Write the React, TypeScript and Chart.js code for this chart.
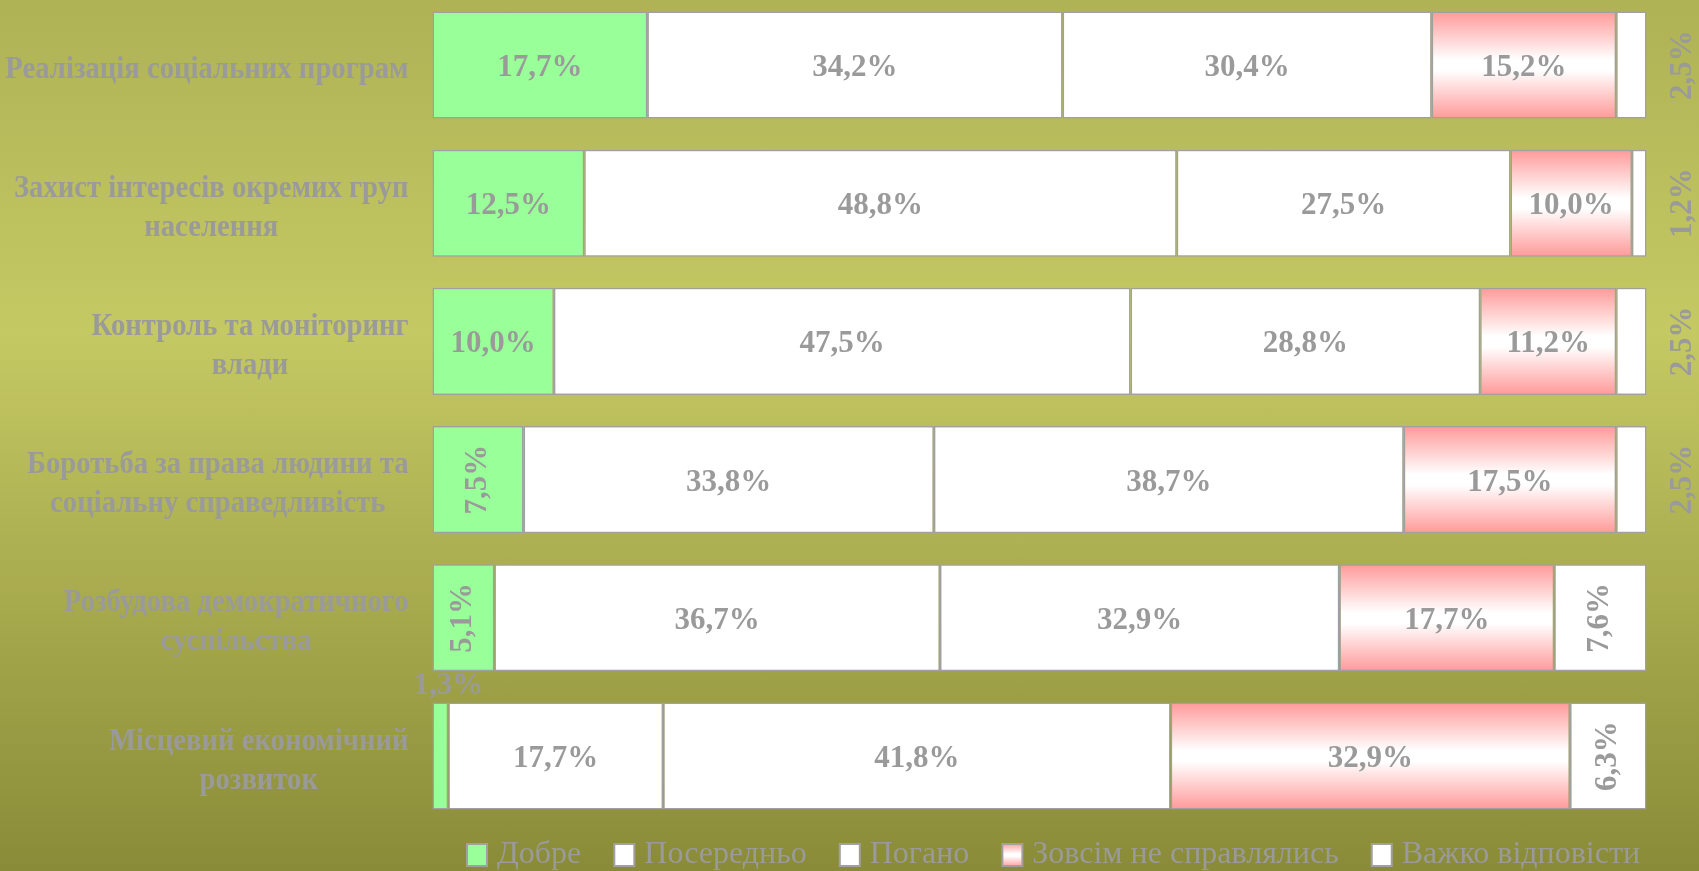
import React, { useEffect, useRef } from 'react';
import { Chart, registerables } from 'chart.js';

Chart.register(...registerables);

// ---- Data ----
const CATEGORIES: string[][] = [
  ['Реалізація соціальних програм'],
  ['Захист інтересів окремих груп', 'населення'],
  ['Контроль та моніторинг', 'влади'],
  ['Боротьба за права людини та', 'соціальну справедливість'],
  ['Розбудова демократичного', 'суспільства'],
  ['Місцевий економічний', 'розвиток'],
];

const SERIES_NAMES = ['Добре', 'Посередньо', 'Погано', 'Зовсім не справлялись', 'Важко відповісти'];

const GOOD = [17.7, 12.5, 10.0, 7.5, 5.1, 1.3];
const AVERAGE = [34.2, 48.8, 47.5, 33.8, 36.7, 17.7];
const BAD = [30.4, 27.5, 28.8, 38.7, 32.9, 41.8];
const VERY_BAD = [15.2, 10.0, 11.2, 17.5, 17.7, 32.9];
const HARD_TO_SAY = [2.5, 1.2, 2.5, 2.5, 7.6, 6.3];

const SERIES_VALUES = [GOOD, AVERAGE, BAD, VERY_BAD, HARD_TO_SAY];

// ---- Styles ----
const FAMILY = "'Liberation Serif', 'Times New Roman', serif";
const TEXT_GRAY = '#9A9A9A';
const BORDER_GRAY = '#A0A0A0';
const GREEN = '#99FF99';
const WHITE = '#FFFFFF';
const PINK = '#FF9999';
const BAR_PCT = 0.775;

const W = 1699;
const H = 881;

function fmt(v: number): string {
  return v.toFixed(1).replace('.', ',') + '%';
}

function pinkGradient(ctx: CanvasRenderingContext2D, top: number, bottom: number) {
  const g = ctx.createLinearGradient(0, top, 0, bottom);
  g.addColorStop(0, PINK);
  g.addColorStop(0.45, WHITE);
  g.addColorStop(0.55, WHITE);
  g.addColorStop(1, PINK);
  return g;
}

// Legend icon: 60px wide image, the visible 22x24 box sits at its right side
function makeIcon(kind: 'green' | 'white' | 'pink'): HTMLCanvasElement {
  const c = document.createElement('canvas');
  c.width = 60;
  c.height = 24;
  const x = c.getContext('2d')!;
  const bx = 36;
  if (kind === 'pink') x.fillStyle = pinkGradient(x, 0, 24);
  else x.fillStyle = kind === 'green' ? GREEN : WHITE;
  x.fillRect(bx, 0, 22, 24);
  x.strokeStyle = BORDER_GRAY;
  x.lineWidth = 2;
  x.strokeRect(bx + 1, 1, 20, 22);
  return c;
}

const yLabelsPlugin = {
  id: 'yLabels',
  afterDraw(chart: any) {
    const ctx = chart.ctx as CanvasRenderingContext2D;
    const ys = chart.scales.y;
    const left = chart.chartArea.left;
    const sx = 0.925;
    ctx.save();
    ctx.font = `bold 31px ${FAMILY}`;
    ctx.fillStyle = TEXT_GRAY;
    ctx.textAlign = 'center';
    ctx.textBaseline = 'middle';
    const lh = 39;
    CATEGORIES.forEach((lines, i) => {
      const yc = ys.getPixelForValue(i) + 5;
      const w = Math.max(...lines.map((l) => ctx.measureText(l).width)) * sx;
      const cx = left - 24 - w / 2;
      const y0 = yc - ((lines.length - 1) * lh) / 2;
      lines.forEach((l, k) => {
        ctx.save();
        ctx.translate(cx, y0 + k * lh);
        ctx.scale(sx, 1);
        ctx.fillText(l, 0, 0);
        ctx.restore();
      });
    });
    ctx.restore();
  },
};

const dataLabelsPlugin = {
  id: 'dataLabels',
  afterDatasetsDraw(chart: any) {
    const ctx = chart.ctx as CanvasRenderingContext2D;
    const area = chart.chartArea;
    const n = chart.data.datasets.length;
    ctx.save();
    ctx.font = `bold 31px ${FAMILY}`;
    ctx.fillStyle = TEXT_GRAY;
    ctx.textAlign = 'center';
    ctx.textBaseline = 'middle';
    const rot = (t: string, x: number, y: number) => {
      ctx.save();
      ctx.translate(x, y);
      ctx.rotate(-Math.PI / 2);
      ctx.fillText(t, 0, 0);
      ctx.restore();
    };
    chart.data.datasets.forEach((ds: any, d: number) => {
      const meta = chart.getDatasetMeta(d);
      meta.data.forEach((el: any, i: number) => {
        const v = ds.data[i] as number;
        const t = fmt(v);
        const x0 = Math.min(el.base, el.x);
        const x1 = Math.max(el.base, el.x);
        const w = x1 - x0;
        const cx = (x0 + x1) / 2;
        const cy = el.y;
        if (w >= 100) ctx.fillText(t, cx, cy + 3);
        else if (w >= 45) rot(t, cx, cy);
        else if (d === n - 1) rot(t, area.right + 36, cy);
        else ctx.fillText(t, cx + 8, cy - el.height / 2 - 16);
      });
    });
    ctx.restore();
  },
};

export default function App() {
  const ref = useRef<HTMLCanvasElement | null>(null);

  useEffect(() => {
    if (!ref.current) return;
    const icons = [makeIcon('green'), makeIcon('white'), makeIcon('white'), makeIcon('pink'), makeIcon('white')];
    const fills: any[] = [GREEN, WHITE, WHITE, 'pink', WHITE];

    const datasets = SERIES_NAMES.map((name, s) => ({
      label: name,
      data: SERIES_VALUES[s],
      backgroundColor:
        fills[s] === 'pink'
          ? (c: any) => {
              const chart = c.chart;
              const ys = chart.scales && chart.scales.y;
              if (!ys || !chart.chartArea || c.dataIndex === undefined) return PINK;
              const yc = ys.getPixelForValue(c.dataIndex);
              const pitch = Math.abs(ys.getPixelForValue(1) - ys.getPixelForValue(0));
              if (!Number.isFinite(yc) || !Number.isFinite(pitch) || pitch === 0) return PINK;
              const half = (pitch * BAR_PCT) / 2;
              return pinkGradient(chart.ctx, yc - half, yc + half);
            }
          : fills[s],
      borderColor: BORDER_GRAY,
      borderWidth: 1.5,
      borderSkipped: false,
      barPercentage: BAR_PCT,
      categoryPercentage: 1,
      clip: false,
    }));

    const chart = new Chart(ref.current, {
      type: 'bar',
      data: {
        labels: CATEGORIES.map((l) => l.join(' ')),
        datasets: datasets as any,
      },
      plugins: [yLabelsPlugin, dataLabelsPlugin],
      options: {
        indexAxis: 'y',
        responsive: false,
        animation: false,
        devicePixelRatio: 1,
        events: [],
        layout: { padding: { top: 65, left: 432.5, right: 52.5, bottom: 0 } },
        scales: {
          x: {
            stacked: true,
            min: 0,
            max: 100,
            display: true,
            grid: { display: false },
            border: { display: false },
            ticks: { display: false },
            afterFit: (s: any) => {
              s.height = 78;
            },
          },
          y: {
            stacked: true,
            display: false,
            offset: false,
          },
        },
        plugins: {
          tooltip: { enabled: false },
          legend: {
            position: 'bottom',
            fullSize: false,
            align: 'center',
            labels: {
              usePointStyle: true,
              pointStyleWidth: 42,
              boxHeight: 24,
              padding: 5,
              color: TEXT_GRAY,
              font: { family: FAMILY, size: 32, weight: 'normal' },
              generateLabels: (ch: any) =>
                ch.data.datasets.map((ds: any, i: number) => ({
                  text: ds.label,
                  pointStyle: icons[i],
                  fillStyle: 'transparent',
                  strokeStyle: 'transparent',
                  lineWidth: 0,
                  hidden: false,
                  datasetIndex: i,
                  fontColor: TEXT_GRAY,
                })),
            },
          },
        },
      } as any,
    });
    return () => chart.destroy();
  }, []);

  return (
    <div
      style={{
        position: 'fixed',
        top: 0,
        left: 0,
        width: W,
        height: 871,
        overflow: 'hidden',
        background: 'linear-gradient(to bottom, #AFB255 0%, #C5C963 38%, #8A8B38 100%)',
      }}
    >
      <canvas ref={ref} width={W} height={H} style={{ display: 'block', width: W, height: H }} />
    </div>
  );
}
